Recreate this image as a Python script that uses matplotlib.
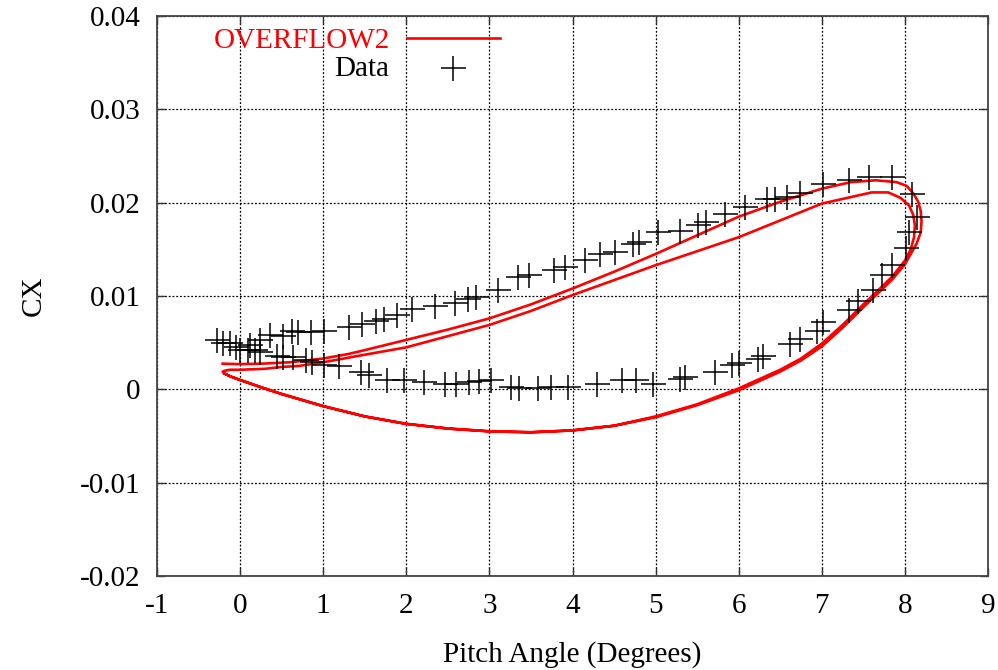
import matplotlib
matplotlib.use("Agg")
import matplotlib.pyplot as plt

plt.rcParams['font.family'] = ['Liberation Serif', 'DejaVu Serif']

# ---- OVERFLOW2 (two cycles) ----
ovf_up1_x = [-0.21, 0.00, 0.26, 0.60, 1.00, 1.31, 1.50, 2.00, 2.50, 3.00, 3.50, 4.00, 4.50,
             5.00, 5.50, 6.00, 6.50, 7.00, 7.35, 7.65, 7.90, 8.02, 8.10, 8.16, 8.19, 8.20,
             8.19, 8.14, 8.07, 8.00]
ovf_up1_y = [0.00275, 0.0027, 0.00275, 0.0029, 0.0033, 0.0038, 0.0042, 0.0053, 0.0064, 0.0076,
             0.0091, 0.0108, 0.0126, 0.0145, 0.0165, 0.0185, 0.0201, 0.0215, 0.0222, 0.0224,
             0.0222, 0.0218, 0.0210, 0.0201, 0.0191, 0.0180, 0.0168, 0.0156, 0.0145, 0.0134]
ovf_lo1_x = [7.85, 7.70, 7.50, 7.25, 7.00, 6.75, 6.50, 6.00, 5.50, 5.00, 4.50, 4.00, 3.50,
             3.00, 2.50, 2.00, 1.50, 1.00, 0.50, 0.26, 0.00, -0.12, -0.19, -0.21]
ovf_lo1_y = [0.0118, 0.0105, 0.0088, 0.0066, 0.0046, 0.0031, 0.0019, -0.0001, -0.0017, -0.0030,
             -0.0039, -0.0044, -0.0046, -0.0045, -0.0042, -0.0037, -0.0029, -0.0018, -0.0005,
             0.0002, 0.0010, 0.0014, 0.0017, 0.0019]
ovf_up2_x = [-0.18, -0.12, 0.00, 0.30, 0.50, 0.70, 1.00, 1.43, 2.00, 2.50, 3.00, 3.50, 4.00,
             4.50, 5.00, 5.50, 6.00, 6.50, 7.00, 7.35, 7.60, 7.80, 7.95, 8.05, 8.10, 8.12,
             8.11, 8.07, 8.00]
ovf_up2_y = [0.0020, 0.0021, 0.0021, 0.0022, 0.0024, 0.0025, 0.0029, 0.0036, 0.0045, 0.0057,
             0.0069, 0.0084, 0.0101, 0.0117, 0.0133, 0.0148, 0.0163, 0.0181, 0.0199, 0.0206,
             0.0211, 0.0211, 0.0205, 0.0197, 0.0187, 0.0176, 0.0163, 0.0150, 0.0138]
ovf_lo2_x = [7.85, 7.70, 7.50, 7.25, 7.00, 6.75, 6.50, 6.00, 5.50, 5.00, 4.50, 4.00, 3.50,
             3.00, 2.50, 2.00, 1.50, 1.00, 0.50, 0.26, 0.00, -0.12, -0.19]
ovf_lo2_y = [0.0121, 0.0108, 0.0091, 0.0069, 0.0049, 0.0033, 0.0021, 0.0001, -0.0016, -0.0029,
             -0.0039, -0.0044, -0.0046, -0.0045, -0.0042, -0.0037, -0.0029, -0.0018, -0.0005,
             0.0002, 0.0010, 0.0014, 0.0017]

# ---- Experimental data ----
data_x = [-0.28, -0.12, 0.12, 0.24, 0.36, 0.52, 0.62, 0.70, 0.85, 1.01, 1.31, 1.47, 1.63, 1.73,
          1.89, 2.07, 2.34, 2.59, 2.74, 2.84, 3.10, 3.35, 3.48, 3.78, 3.91, 4.15, 4.33, 4.51,
          4.73, 4.80, 5.03, 5.29, 5.51, 5.61, 5.84, 6.08, 6.34, 6.44, 6.58, 6.74, 7.02, 7.33,
          7.57, 7.85, 8.09, 8.15,
          8.05, 8.01, 7.85, 7.73, 7.61, 7.43, 7.33, 7.02, 6.94, 6.74, 6.62, 6.29, 6.23, 6.00,
          5.92, 5.71, 5.35, 5.29, 4.97, 4.77, 4.59, 4.29, 3.94, 3.74, 3.58, 3.36, 3.26, 3.02,
          2.88, 2.76, 2.60, 2.46, 2.21, 1.97, 1.77, 1.55, 1.45, 1.19, 1.01, 0.87, 0.79, 0.64,
          0.52, 0.44, 0.24, 0.18, 0.10, 0.00, -0.05, -0.20]
data_y = [0.0053, 0.0050, 0.0047, 0.0053, 0.0058, 0.0057, 0.0062, 0.0061, 0.0061, 0.0063,
          0.0067, 0.0070, 0.0073, 0.0075, 0.0080, 0.0086, 0.0089, 0.0092, 0.0097, 0.0099,
          0.0106, 0.0120, 0.0123, 0.0128, 0.0131, 0.0139, 0.0145, 0.0147, 0.0156, 0.0158,
          0.0169, 0.0170, 0.0176, 0.0179, 0.0188, 0.0195, 0.0204, 0.0204, 0.0206, 0.0210,
          0.0220, 0.0224, 0.0227, 0.0227, 0.0209, 0.0185,
          0.0169, 0.0151, 0.0133, 0.0122, 0.0106, 0.0095, 0.0085, 0.0072, 0.0063, 0.0054,
          0.0049, 0.0036, 0.0032, 0.0028, 0.0026, 0.0019, 0.0013, 0.0011, 0.0006, 0.0010,
          0.0010, 0.0006, 0.0002, 0.0002, 0.0001, 0.0001, 0.0002, 0.0010, 0.0009, 0.0008,
          0.0006, 0.0006, 0.0008, 0.0010, 0.0010, 0.0015, 0.0019, 0.0025, 0.0026, 0.0029,
          0.0031, 0.0035, 0.0035, 0.0036, 0.0040, 0.0042, 0.0042, 0.0042, 0.0045, 0.0050]

x_ticks = [-1, 0, 1, 2, 3, 4, 5, 6, 7, 8, 9]
y_ticks = [-0.02, -0.01, 0, 0.01, 0.02, 0.03, 0.04]
y_tick_labels = ['-0.02', '-0.01', '0', '0.01', '0.02', '0.03', '0.04']

FS = 21

fig = plt.figure(figsize=(9.98, 6.70), dpi=100)
ax = fig.add_axes([0.1573, 0.1403, 0.8327, 0.8358])

ovf_x = ovf_up1_x + ovf_lo1_x + ovf_up2_x + ovf_lo2_x
ovf_y = ovf_up1_y + ovf_lo1_y + ovf_up2_y + ovf_lo2_y
ax.plot(ovf_x, ovf_y, color='#ff0000', lw=1.9, zorder=3, solid_joinstyle='round')
ax.plot(data_x, data_y, linestyle='none', marker='+', markersize=18,
        markeredgewidth=1.1, color='black', zorder=4)

ax.set_xlim(-1, 9)
ax.set_ylim(-0.02, 0.04)
ax.set_xticks(x_ticks)
ax.set_xticklabels([str(t) for t in x_ticks])
ax.set_yticks(y_ticks)
ax.set_yticklabels(y_tick_labels)
ax.grid(True, color='black', linestyle=(0, (1.5, 1.5)), linewidth=0.9)
ax.tick_params(direction='in', length=6, width=1.0, top=True, right=True,
               labelsize=FS, color='#333333')
ax.tick_params(axis='x', pad=12)
ax.tick_params(axis='y', pad=12)
for s in ax.spines.values():
    s.set_linewidth(1.3)
    s.set_color('#444444')

ax.set_xlabel('Pitch Angle (Degrees)', fontsize=FS, labelpad=16)
ax.set_ylabel('CX', fontsize=FS, labelpad=24)

# legend (gnuplot style)
ax.text(0.280, 0.955, 'OVERFLOW2', transform=ax.transAxes, ha='right', va='center',
        fontsize=FS, color='#ff0000')
ax.plot([0.301, 0.413], [0.960, 0.960], transform=ax.transAxes, color='#ff0000', lw=1.9,
        clip_on=False)
ax.text(0.280, 0.905, 'Data', transform=ax.transAxes, ha='right', va='center',
        fontsize=FS, color='black')
ax.plot([0.356], [0.907], transform=ax.transAxes, linestyle='none', marker='+',
        markersize=18, markeredgewidth=1.1, color='black', clip_on=False)

fig.savefig('out.png', dpi=100)
